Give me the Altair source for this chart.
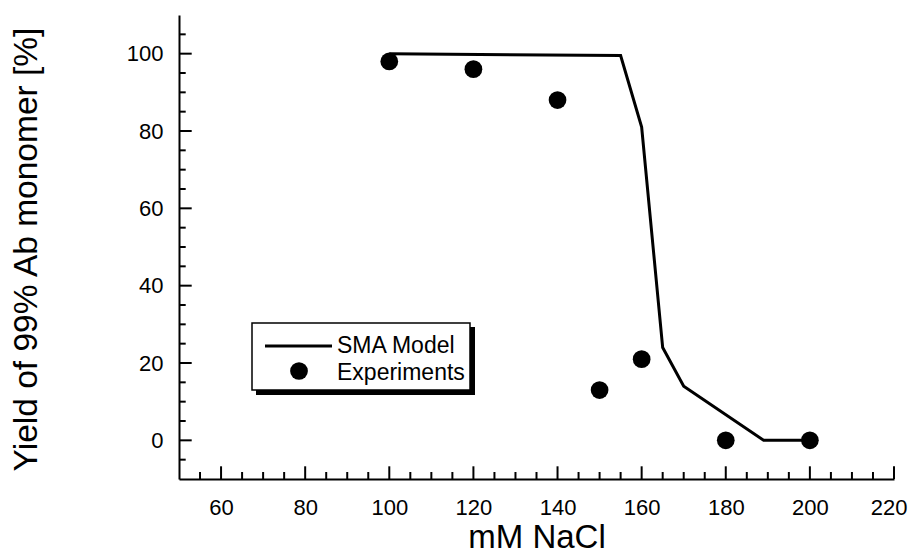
import altair as alt
import pandas as pd

# ---- data ----
sma_x = [100, 155, 160, 165, 170, 189, 200]
sma_y = [100, 99.5, 81, 24, 14, 0, 0]

exp_x = [100, 120, 140, 150, 160, 180, 200]
exp_y = [98, 96, 88, 13, 21, 0, 0]

x_major = [60, 80, 100, 120, 140, 160, 180, 200, 220]
x_minor = [55, 65, 70, 75, 85, 90, 95, 105, 110, 115, 125, 130, 135, 145, 150,
           155, 165, 170, 175, 185, 190, 195, 205, 210, 215]
y_major = [0, 20, 40, 60, 80, 100]
y_minor = [-5, 5, 10, 15, 25, 30, 35, 45, 50, 55, 65, 70, 75, 85, 90, 95, 105]

legend_labels = ["SMA Model", "Experiments"]

FONT = "Liberation Sans"
W, H = 715, 464

xs = alt.Scale(domain=[50, 220], nice=False, zero=False)
ys = alt.Scale(domain=[-10, 110], nice=False, zero=False)

last_x = "datum.value == 220"
x_axis = alt.Axis(values=x_major, title="mM NaCl", ticks=False, tickSize=0,
                  labelPadding=18, labelFontSize=22, labelFont=FONT, labelColor="black",
                  labelFlush=False, labelOverlap=False,
                  labelAlign={"condition": {"test": last_x, "value": "right"}, "value": "center"},
                  labelOffset={"condition": {"test": last_x, "value": 13}, "value": 0},
                  titleFont=FONT, titleFontSize=33, titleFontWeight="normal", titleColor="black",
                  titleX=W / 2, titleY=68, titleBaseline="alphabetic", titleAlign="center",
                  domainWidth=2, domainColor="black", grid=False)
y_axis = alt.Axis(values=y_major, title="Yield of 99% Ab monomer [%]", ticks=False, tickSize=0,
                  labelPadding=16, labelFontSize=22, labelFont=FONT, labelColor="black",
                  labelFlush=False, labelOverlap=False,
                  titleFont=FONT, titleFontSize=33.5, titleFontWeight="normal", titleColor="black",
                  titleX=-143, titleY=H / 2 + 2, titleBaseline="alphabetic", titleAlign="center",
                  titleAngle=270,
                  domainWidth=2, domainColor="black", grid=False)

sma_df = pd.DataFrame({"x": sma_x, "y": sma_y})
exp_df = pd.DataFrame({"x": exp_x, "y": exp_y})

line = alt.Chart(sma_df).mark_line(color="black", strokeWidth=3, strokeJoin="miter").encode(
    x=alt.X("x:Q", scale=xs, axis=x_axis),
    y=alt.Y("y:Q", scale=ys, axis=y_axis),
)
points = alt.Chart(exp_df).mark_circle(color="black", opacity=1, size=314).encode(
    x=alt.X("x:Q", scale=xs, axis=x_axis),
    y=alt.Y("y:Q", scale=ys, axis=y_axis),
)


def xticks(vals, length):
    return alt.Chart(pd.DataFrame({"x": vals})).mark_rule(color="black", strokeWidth=2).encode(
        x=alt.X("x:Q", scale=xs, axis=x_axis),
        y=alt.value(H),
        y2=alt.value(H - length),
    )


def yticks(vals, length):
    return alt.Chart(pd.DataFrame({"y": vals})).mark_rule(color="black", strokeWidth=2).encode(
        y=alt.Y("y:Q", scale=ys, axis=y_axis),
        x=alt.value(0),
        x2=alt.value(length),
    )


one = pd.DataFrame({"a": [0]})
leg_shadow = alt.Chart(one).mark_rect(color="black").encode(
    x=alt.value(77), x2=alt.value(296), y=alt.value(312), y2=alt.value(380))
leg_box = alt.Chart(one).mark_rect(fill="white", stroke="black", strokeWidth=1.5).encode(
    x=alt.value(73), x2=alt.value(291), y=alt.value(308), y2=alt.value(375))
leg_line = alt.Chart(one).mark_rule(color="black", strokeWidth=3).encode(
    x=alt.value(86), x2=alt.value(153), y=alt.value(331))
leg_dot = alt.Chart(one).mark_circle(color="black", opacity=1, size=314).encode(
    x=alt.value(120), y=alt.value(356))
leg_t1 = alt.Chart(one).mark_text(text=legend_labels[0], align="left", baseline="alphabetic",
                                  font=FONT, fontSize=23, color="black").encode(
    x=alt.value(158), y=alt.value(338))
leg_t2 = alt.Chart(one).mark_text(text=legend_labels[1], align="left", baseline="alphabetic",
                                  font=FONT, fontSize=23, color="black").encode(
    x=alt.value(158), y=alt.value(365))

chart = alt.layer(
    line, points,
    xticks(x_major, 12.7), xticks(x_minor, 7),
    yticks(y_major, 12.7), yticks(y_minor, 6.7),
    leg_shadow, leg_box, leg_line, leg_dot, leg_t1, leg_t2,
).properties(
    width=W, height=H,
    background="white",
    autosize=alt.AutoSizeParams(type="none"),
    padding={"left": 171, "top": 7, "right": 14, "bottom": 84},
).configure_view(stroke=None)

chart.save("out.html", embed_options={"renderer": "svg", "actions": False})
